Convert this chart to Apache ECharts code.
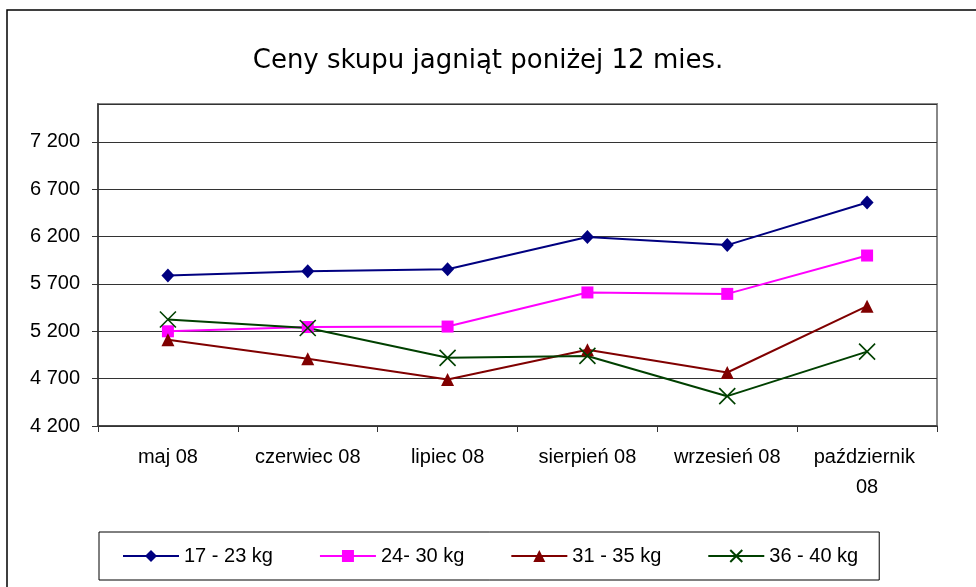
<!DOCTYPE html>
<html>
<head>
<meta charset="utf-8">
<script src="https://cdn.jsdelivr.net/npm/echarts@6/dist/echarts.min.js"></script>
<style>
  html, body { margin: 0; padding: 0; background: #fff; }
  #chart { width: 976px; height: 587px; }
</style>
</head>
<body>
<div id="chart"></div>
<script>
// miesiące (oś X)
const months = ['maj 08', 'czerwiec 08', 'lipiec 08', 'sierpień 08', 'wrzesień 08', 'październik 08'];
// nazwy serii
const names = ['17 - 23 kg', '24- 30 kg', '31 - 35 kg', '36 - 40 kg'];
// ceny
const kg17_23 = [5790, 5835, 5855, 6195, 6110, 6560];
const kg24_30 = [5200, 5245, 5250, 5610, 5595, 6000];
const kg31_35 = [5110, 4910, 4690, 5005, 4765, 5465];
const kg36_40 = [5325, 5235, 4920, 4940, 4515, 4985];

const FONT = '"Liberation Sans", Arial, sans-serif';
const fmt = (v) => String(v).replace(/\B(?=(\d{3})+(?!\d))/g, ' ');

const chart = echarts.init(document.getElementById('chart'));

const option = {
  animation: false,
  backgroundColor: '#fff',
  title: {
    text: 'Ceny skupu jagniąt poniżej 12 mies.',
    left: 'center',
    top: 43,
    textStyle: { fontFamily: '"DejaVu Sans", sans-serif', fontSize: 26, fontWeight: 'normal', color: '#000' },
  },
  graphic: [
    {
      // ramka wykresu
      type: 'rect',
      shape: { x: 7, y: 10, width: 1000, height: 1000 },
      style: { fill: 'none', stroke: '#000', lineWidth: 1.5 },
      silent: true,
    },
  ],
  legend: {
    data: names,
    left: 99,
    top: 532,
    padding: [13, 21, 13, 23],
    borderColor: '#000',
    borderWidth: 1,
    itemWidth: 56,
    itemHeight: 15,
    itemGap: 46,
    textStyle: { fontFamily: FONT, fontSize: 20, color: '#000', lineHeight: 22 },
  },
  grid: {
    left: 98, right: 39, top: 104, bottom: 161,
    show: true,
    borderColor: '#888',
    borderWidth: 2,
  },
  xAxis: {
    type: 'category',
    data: months,
    boundaryGap: true,
    axisLine: { lineStyle: { color: '#333', width: 1.5 } },
    axisTick: { show: true, length: 6, lineStyle: { color: '#333' } },
    axisLabel: {
      fontFamily: FONT, fontSize: 20, color: '#000', margin: 16,
      lineHeight: 30, width: 118, overflow: 'break', interval: 0,
    },
  },
  yAxis: {
    type: 'value',
    min: 4200,
    max: 7600,
    interval: 500,
    axisLine: { show: true, lineStyle: { color: '#333', width: 1.5 } },
    axisTick: { show: true, length: 6, lineStyle: { color: '#333' } },
    splitLine: { lineStyle: { color: '#333', width: 1.2 } },
    axisLabel: {
      fontFamily: FONT, fontSize: 20, color: '#000', margin: 18,
      showMaxLabel: false,
      formatter: fmt,
    },
  },
  series: [
    {
      name: names[0], type: 'line', data: kg17_23,
      symbol: 'diamond', symbolSize: [13, 14],
      lineStyle: { color: '#000080', width: 2 },
      itemStyle: { color: '#000080' },
    },
    {
      name: names[1], type: 'line', data: kg24_30,
      symbol: 'rect', symbolSize: 12,
      lineStyle: { color: '#ff00ff', width: 2 },
      itemStyle: { color: '#ff00ff' },
    },
    {
      name: names[2], type: 'line', data: kg31_35,
      symbol: 'triangle', symbolSize: 13,
      lineStyle: { color: '#800000', width: 2 },
      itemStyle: { color: '#800000' },
    },
    {
      name: names[3], type: 'line', data: kg36_40,
      symbol: 'path://M0,0L10,10M0,10L10,0', symbolSize: 16,
      lineStyle: { color: '#004000', width: 2 },
      itemStyle: { color: '#004000', borderColor: '#004000', borderWidth: 1.6 },
    },
  ],
};

chart.setOption(option);
</script>
</body>
</html>
